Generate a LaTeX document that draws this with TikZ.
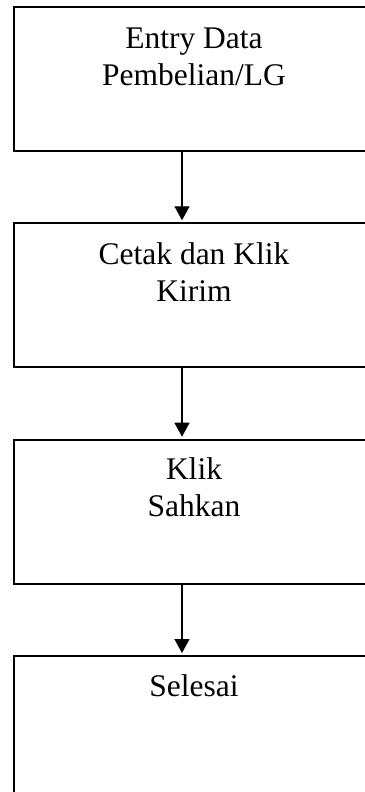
\documentclass[tikz,border=0pt]{standalone}
\usepackage{fontspec}
\setmainfont{Liberation Serif}
\usetikzlibrary{arrows.meta}

\begin{document}
\begin{tikzpicture}[x=1pt, y=-1pt,
  kotak/.style={draw, line width=2pt, rectangle, minimum width=360pt, minimum height=144pt, inner sep=0pt},
  teks/.style={anchor=base, align=center, inner sep=0pt, font=\fontsize{31.5}{37}\selectfont},
  alur/.style={line width=1.3pt, -{Triangle[length=14pt, width=15pt]}}]

  %% kanvas tetap
  \path[use as bounding box] (0,0) rectangle (364,792);

  %% ==== kotak proses ====
  \node[kotak] (entri)   at (194,79.0)  {};
  \node[kotak] (cetak)   at (194,295.3) {};
  \node[kotak] (sahkan)  at (194,511.7) {};
  \node[kotak] (selesai) at (194,728.0) {};

  %% ==== teks dalam kotak (anchor=base = baris terakhir) ====
  \node[teks] (entri-t)   at ([yshift=-79pt]entri.north)   {Entry Data\\Pembelian/LG};
  \node[teks] (cetak-t)   at ([yshift=-79pt]cetak.north)   {Cetak dan Klik\\Kirim};
  \node[teks] (sahkan-t)  at ([yshift=-78pt]sahkan.north)  {Klik\\Sahkan};
  \node[teks] (selesai-t) at ([yshift=-41pt]selesai.north) {Selesai};

  %% ==== panah ====
  \coordinate (jalur) at (182,0);
  \draw[alur] (entri.south -| jalur)  -- ([yshift=2pt]cetak.north -| jalur);
  \draw[alur] (cetak.south -| jalur)  -- ([yshift=2pt]sahkan.north -| jalur);
  \draw[alur] (sahkan.south -| jalur) -- ([yshift=2pt]selesai.north -| jalur);
\end{tikzpicture}
\end{document}
